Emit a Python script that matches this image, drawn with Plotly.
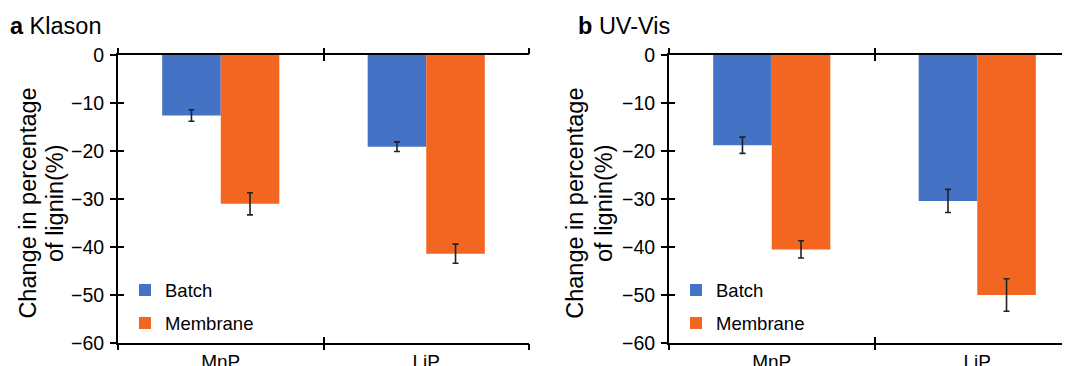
import plotly.graph_objects as go

categories = ["MnP", "LiP"]
series_names = ["Batch", "Membrane"]

klason_batch = [-12.6, -19.1]
klason_batch_err = [1.2, 1.0]
klason_membrane = [-31.0, -41.4]
klason_membrane_err = [2.3, 2.0]

uvvis_batch = [-18.8, -30.4]
uvvis_batch_err = [1.7, 2.4]
uvvis_membrane = [-40.5, -50.0]
uvvis_membrane_err = [1.8, 3.4]

y_ticks = [0, -10, -20, -30, -40, -50, -60]
y_tick_labels = ["0", "\u221210", "\u221220", "\u221230", "\u221240", "\u221250", "\u221260"]
panel_titles = ["<b>a</b> Klason", "<b>b</b> UV-Vis"]
y_title_lines = ["Change in percentage", "of lignin(%)"]

BLUE = "#4472C4"
ORANGE = "#F26622"
FONT = "Arial, Liberation Sans, sans-serif"
# the page body has an 8px margin, so the figure is sized to fit the window
W, H = 1062, 358
TOP, BOTTOM = 47, 335
PH = BOTTOM - TOP

fig = go.Figure()

panels = [
    (klason_batch, klason_batch_err, klason_membrane, klason_membrane_err, "x", "y", "legend"),
    (uvvis_batch, uvvis_batch_err, uvvis_membrane, uvvis_membrane_err, "x2", "y2", "legend2"),
]

for i, (b, be, m, me, xa, ya, lg) in enumerate(panels):
    for name, vals, errs, col in [(series_names[0], b, be, BLUE), (series_names[1], m, me, ORANGE)]:
        fig.add_trace(go.Bar(
            x=categories, y=vals, name=name, xaxis=xa, yaxis=ya,
            marker=dict(color=col, line=dict(width=0)),
            error_y=dict(type="data", array=errs, visible=True, color="#222222",
                         thickness=1.6, width=3),
            legend=lg, legendgroup=name + str(i), showlegend=True,
        ))

# empty traces so the overlay axes (for crossing ticks) get drawn
fig.add_trace(go.Scatter(x=[], y=[], xaxis="x3", yaxis="y3", showlegend=False))
fig.add_trace(go.Scatter(x=[], y=[], xaxis="x4", yaxis="y4", showlegend=False))

AX_A0, AX_A1 = 110, 521
AX_B0 = 661
dom_a = [AX_A0 / W, AX_A1 / W]
dom_b = [AX_B0 / W, 1.0]
cat_w = (AX_A1 - AX_A0) / 2.0
range_a = [-0.5, 1.5]
range_b = [-0.5, -0.5 + (W - AX_B0) / cat_w]

line_kw = dict(linecolor="black", linewidth=2, tickcolor="black", tickwidth=2, ticklen=6,
               automargin=False)
xtickfont = dict(family=FONT, size=19, color="black")
ytickfont = dict(family=FONT, size=19.5, color="black")

def main_x(dom, rng, anchor):
    # inside ticks here keep the category labels close to the axis line;
    # the outward half of each crossing tick comes from the overlay axis
    return dict(domain=dom, range=rng, anchor=anchor, type="category", showline=True,
                mirror="ticks", ticks="inside", tickson="boundaries", showgrid=False,
                zeroline=False, tickfont=xtickfont, **line_kw)

def main_y(anchor):
    return dict(domain=[0, 1], range=[-60, 0], anchor=anchor, showline=True, ticks="outside",
                tickvals=y_ticks, ticktext=y_tick_labels, showgrid=False, zeroline=False,
                tickfont=ytickfont, ticklabelstandoff=2, **line_kw)

def over_x(dom, rng, over, anchor):
    return dict(domain=dom, range=rng, overlaying=over, anchor=anchor, showline=False,
                mirror="ticks", ticks="outside", tickvals=[-0.5, 0.5, 1.5], showticklabels=False,
                showgrid=False, zeroline=False, **line_kw)

def over_y(over, anchor):
    return dict(domain=[0, 1], range=[-60, 0], overlaying=over, anchor=anchor, showline=False,
                ticks="inside", tickvals=y_ticks, showticklabels=False, showgrid=False,
                zeroline=False, **line_kw)

legend_kw = dict(xanchor="left", yanchor="middle", bgcolor="rgba(0,0,0,0)",
                 font=dict(family=FONT, size=18.5, color="black"),
                 traceorder="grouped", tracegroupgap=6, itemwidth=30)
leg_y = (BOTTOM - 299) / PH

fig.update_layout(
    width=W, height=H,
    margin=dict(l=0, r=0, t=TOP, b=H - BOTTOM, pad=0, autoexpand=False),
    paper_bgcolor="white", plot_bgcolor="white",
    font=dict(family=FONT, size=18.5, color="black"),
    barmode="group", bargap=0.43, bargroupgap=0,
    xaxis=main_x(dom_a, range_a, "y"),
    yaxis=main_y("x"),
    xaxis2=main_x(dom_b, range_b, "y2"),
    yaxis2=main_y("x2"),
    xaxis3=over_x(dom_a, range_a, "x", "y3"),
    yaxis3=over_y("y", "x3"),
    xaxis4=over_x(dom_b, range_b, "x2", "y4"),
    yaxis4=over_y("y2", "x4"),
    legend=dict(x=117 / W, y=leg_y, **legend_kw),
    legend2=dict(x=668 / W, y=leg_y, **legend_kw),
    showlegend=True,
)

for x_px, title in [(0, panel_titles[0]), (568, panel_titles[1])]:
    fig.add_annotation(x=x_px / W, y=(BOTTOM - 18) / PH, xref="paper", yref="paper",
                       text=title, showarrow=False, xanchor="left", yanchor="middle",
                       font=dict(family=FONT, size=23.5, color="black"))

for line_x in [(19.6, 47), (566.8, 596)]:
    for x_px, txt in zip(line_x, y_title_lines):
        fig.add_annotation(x=x_px / W, y=(BOTTOM - 195) / PH, xref="paper", yref="paper",
                           text=txt, showarrow=False, textangle=-90,
                           xanchor="center", yanchor="middle",
                           font=dict(family=FONT, size=23.5, color="black"))

fig.write_html("out.html")
